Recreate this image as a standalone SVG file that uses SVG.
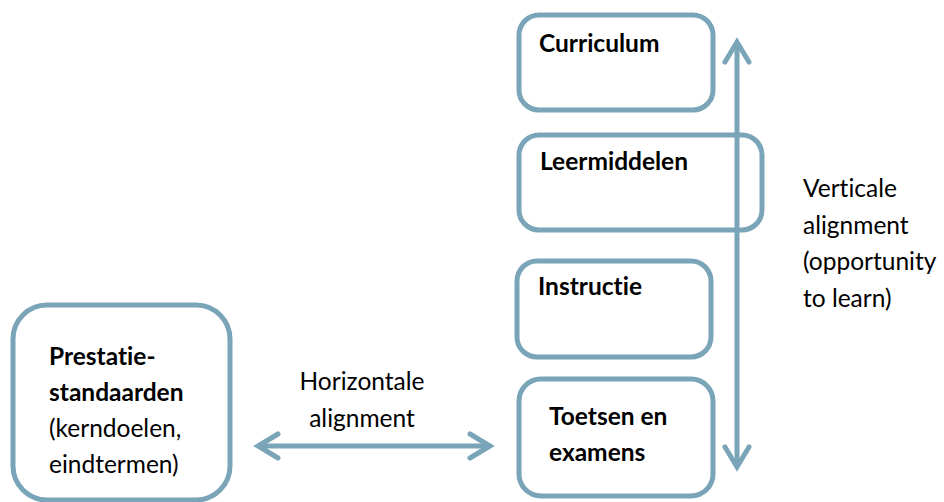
<svg xmlns="http://www.w3.org/2000/svg" width="944" height="502" viewBox="0 0 944 502">
<defs>
<style>
.box{fill:#fff;stroke:#7aa4b8;stroke-width:5}
.conn{stroke:#7aa4b8;stroke-width:5;fill:none}
.head{stroke:#7aa4b8;stroke-width:5;fill:none;stroke-linecap:round;stroke-linejoin:miter}
text{font-family:Lato,"Open Sans","Liberation Sans",sans-serif;font-size:24.5px;fill:#000;font-variant-ligatures:none}
.b{font-weight:bold}
</style>
<marker id="arr" markerUnits="userSpaceOnUse" markerWidth="40" markerHeight="40" viewBox="-30 -20 40 40" refX="0" refY="0" orient="auto-start-reverse">
<path class="head" d="M-20,-12 L0,0 L-20,12"/>
</marker>
</defs>
<rect width="944" height="502" fill="#fff"/>
<g id="node-curriculum">
<rect class="box" x="519" y="15" width="194" height="95" rx="20"/>
<text class="b" x="539" y="52">Curriculum</text>
</g>
<g id="node-leermiddelen">
<rect class="box" x="519" y="135" width="243" height="95" rx="20"/>
<text class="b" x="540" y="170">Leermiddelen</text>
</g>
<g id="node-instructie">
<rect class="box" x="517" y="261" width="194" height="96" rx="20"/>
<text class="b" x="538" y="295">Instructie</text>
</g>
<g id="node-toetsen">
<rect class="box" x="519" y="379" width="194" height="117" rx="22"/>
<text class="b" x="549" y="425">Toetsen en</text>
<text class="b" x="549" y="461">examens</text>
</g>
<g id="node-prestatie">
<rect class="box" x="13" y="305" width="217" height="195" rx="34"/>
<text class="b" x="49" y="365">Prestatie-</text>
<text class="b" x="49" y="401">standaarden</text>
<text x="49" y="437">(kerndoelen,</text>
<text x="49" y="473">eindtermen)</text>
</g>
<g id="connectors">
<line class="conn" x1="737" y1="42" x2="737" y2="467" marker-start="url(#arr)" marker-end="url(#arr)"/>
<line class="conn" x1="258" y1="446" x2="490" y2="446" marker-start="url(#arr)" marker-end="url(#arr)"/>
</g>
<g id="labels">
<text x="362" y="390" text-anchor="middle">Horizontale</text>
<text x="362" y="427" text-anchor="middle">alignment</text>
<text x="803" y="197">Verticale</text>
<text x="803" y="234">alignment</text>
<text x="803" y="270">(opportunity</text>
<text x="803" y="307">to learn)</text>
</g>
</svg>
